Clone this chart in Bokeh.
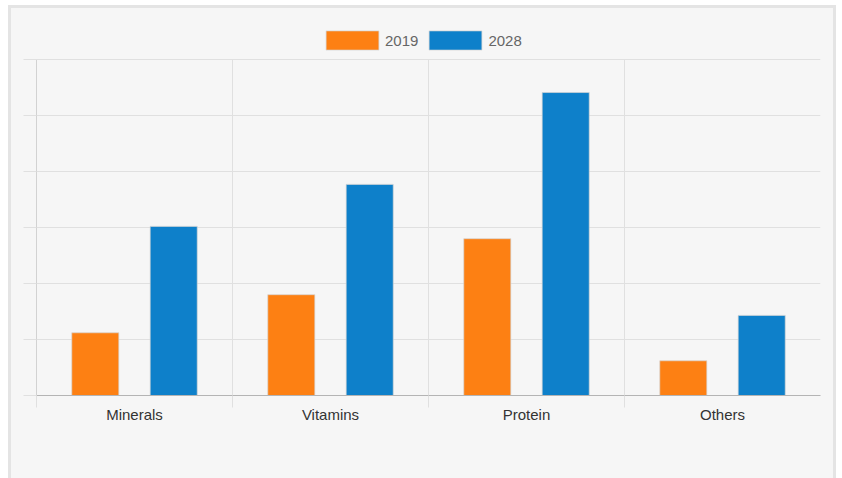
import numpy as np
from bokeh.plotting import figure
from bokeh.models import Range1d, FixedTicker, Legend, LegendItem
from bokeh.embed import file_html
from bokeh.resources import INLINE

# Market size by ingredient type
categories = ["Minerals", "Vitamins", "Protein", "Others"]
series_names = ["2019", "2028"]
values_2019 = [1.12, 1.80, 2.80, 0.62]
values_2028 = [3.02, 3.77, 5.41, 1.43]
y_ticks = [0, 1, 2, 3, 4, 5, 6]
series_colors = ["#fd8013", "#0e80ca"]

FONT = "Liberation Sans"
GRID = "#e0e0e0"
PANEL = "#f6f6f6"
CARD_EDGE = "#e4e4e4"

n = len(categories)
centers = np.arange(n) + 0.5
edges = np.arange(n)
bar_w = 0.24
offsets = [-0.2, 0.2]

# one spare unit above the top gridline leaves room for the legend
p = figure(width=842, height=478,
           x_range=Range1d(0, n), y_range=Range1d(y_ticks[0], y_ticks[-1] + 1),
           output_backend="svg", toolbar_location=None,
           min_border_left=36, min_border_right=22,
           min_border_top=3, min_border_bottom=83)
p.background_fill_alpha = 0
p.border_fill_alpha = 0
p.outline_line_color = None

# card behind the canvas: white page, light edge, grey panel
p.styles = {
    "background": (
        f"linear-gradient({PANEL}, {PANEL}) 11px 8px / 822px 470px no-repeat, "
        f"linear-gradient({CARD_EDGE}, {CARD_EDGE}) 8px 5px / 828px 473px no-repeat, "
        "#ffffff"
    )
}

# category separators, limited to the gridded band
p.segment(x0=edges, y0=y_ticks[0], x1=edges, y1=y_ticks[-1],
          line_color=GRID, line_width=1, level="underlay")

# bars
renderers = []
for vals, off, col in zip([values_2019, values_2028], offsets, series_colors):
    r = p.vbar(x=centers + off, top=vals, width=bar_w, bottom=0,
               fill_color=col, line_color="#d4d4d4", line_alpha=0.7, line_width=1)
    renderers.append(r)

# x axis: labels at category centres, short ticks at category edges
p.xaxis.ticker = FixedTicker(ticks=list(centers), minor_ticks=list(edges))
p.xaxis.major_label_overrides = {float(c): name for c, name in zip(centers, categories)}
p.xaxis.major_tick_out = 0
p.xaxis.major_tick_in = 0
p.xaxis.minor_tick_out = 12
p.xaxis.minor_tick_in = 0
p.xaxis.minor_tick_line_color = GRID
p.xaxis.axis_line_color = "#b4b4b4"
p.xaxis.major_label_text_font = FONT
p.xaxis.major_label_text_font_size = "15px"
p.xaxis.major_label_text_color = "#333333"
p.xaxis.major_label_standoff = -2
p.xgrid.grid_line_color = None

# y axis: gridlines only, no labels
p.yaxis.ticker = FixedTicker(ticks=y_ticks, minor_ticks=[])
p.yaxis.bounds = (y_ticks[0], y_ticks[-1])
p.yaxis.major_label_overrides = {t: "" for t in y_ticks}
p.yaxis.major_tick_out = 13
p.yaxis.major_tick_in = 0
p.yaxis.major_tick_line_color = GRID
p.yaxis.minor_tick_line_color = None
p.yaxis.axis_line_color = "#d2d2d2"
p.yaxis.major_label_standoff = 0
p.ygrid.grid_line_color = GRID

# legend swatches are drawn at 80% of the glyph box
legend = Legend(
    items=[LegendItem(label=name, renderers=[r]) for name, r in zip(series_names, renderers)],
    location=(283, 343), orientation="horizontal",
    glyph_width=66, glyph_height=24, label_height=24, label_standoff=-1,
    spacing=4, padding=0, margin=0,
    border_line_color=None, background_fill_alpha=0,
    label_text_font=FONT, label_text_font_size="15px", label_text_color="#666666",
)
p.add_layout(legend)

open("out.html", "w").write(file_html(p, INLINE))
